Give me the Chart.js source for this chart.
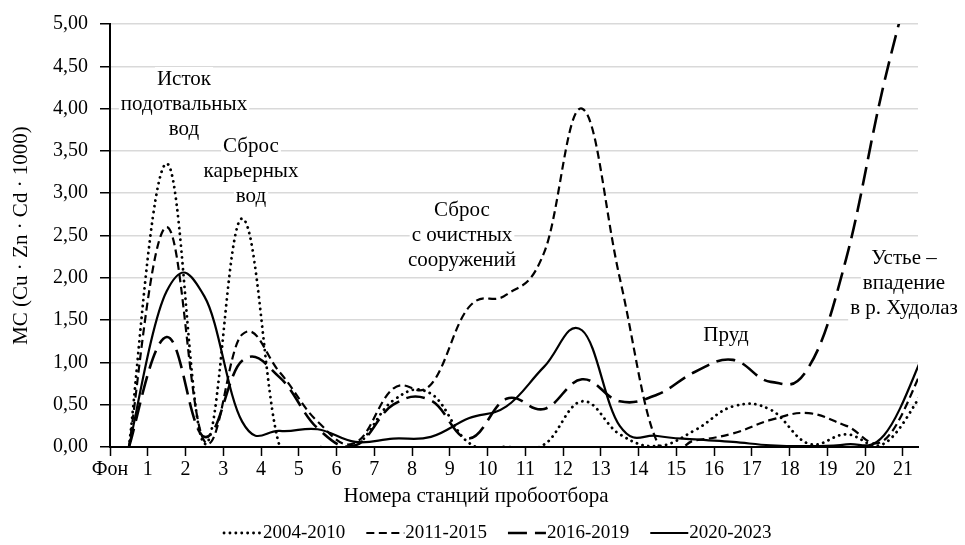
<!DOCTYPE html>
<html>
<head>
<meta charset="utf-8">
<script src="https://cdn.jsdelivr.net/npm/chart.js@4.4.1/dist/chart.umd.min.js"></script>
<style>
  html, body { margin: 0; padding: 0; background: #fff; }
  #wrap { width: 965px; height: 545px; }
</style>
</head>
<body>
<div id="wrap"><canvas id="myChart" width="965" height="545"></canvas></div>
<script>
// station labels on the x axis
const stations = ['Фон', '1', '2', '3', '4', '5', '6', '7', '8', '9', '10',
  '11', '12', '13', '14', '15', '16', '17', '18', '19', '20', '21'];

// values, one per station
const s2004 = [0, 3.35, 0.04, 2.70, 0, 0, 0.01, 0.55, 0.63, 0.05, 0, 0.03, 0.54, 0.15, 0.01, 0.20, 0.48, 0.44, 0.04, 0.15, 0.04, 0.63];
const s2011 = [0, 2.60, 0.07, 1.33, 0.88, 0.30, 0.05, 0.69, 0.74, 1.65, 1.80, 2.30, 4.00, 2.00, 0.05, 0.08, 0.16, 0.32, 0.40, 0.25, 0.08, 0.90];
const s2016 = [0, 1.30, 0.12, 1.02, 0.82, 0.22, 0.02, 0.50, 0.55, 0.10, 0.57, 0.45, 0.80, 0.54, 0.62, 0.89, 1.03, 0.77, 0.94, 2.23, 4.30, 6.00];
const s2020 = [0, 1.84, 1.78, 0.30, 0.19, 0.21, 0.06, 0.10, 0.12, 0.34, 0.48, 0.95, 1.38, 0.25, 0.13, 0.09, 0.06, 0.02, 0.01, 0.03, 0.14, 1.05];

const yTickLabels = ['0,00', '0,50', '1,00', '1,50', '2,00', '2,50', '3,00', '3,50', '4,00', '4,50', '5,00'];

// text notes inside the plot
const notes = [
  { lines: ['Исток', 'подотвальных', 'вод'], cx: 184, top: 79 },
  { lines: ['Сброс', 'карьерных', 'вод'], cx: 251, top: 146 },
  { lines: ['Сброс', 'с очистных', 'сооружений'], cx: 462, top: 210 },
  { lines: ['Пруд'], cx: 726, top: 335 },
  { lines: ['Устье –', 'впадение', 'в р. Худолаз'], cx: 904, top: 258 }
];

const FONT = "'Liberation Serif', 'Times New Roman', serif";
const SMOOTH = 0.2;
Chart.defaults.font.family = FONT;
Chart.defaults.color = '#000';

// data sits in the middle of each station slot
function toPoints(arr) {
  return arr.map((v, i) => ({ x: i + 0.5, y: v }));
}

// even (spreadsheet-like) smoothing instead of distance weighted one
const smoothPlugin = {
  id: 'smooth',
  beforeDatasetDraw(chart, args) {
    const meta = args.meta;
    const line = meta.dataset;
    line.updateControlPoints(chart.chartArea, meta.indexAxis);
    const pts = meta.data;
    for (let i = 0; i < pts.length; i++) {
      const p = pts[i];
      const a = pts[i - 1] || p;
      const b = pts[i + 1] || p;
      const dx = (b.x - a.x) * SMOOTH;
      const dy = (b.y - a.y) * SMOOTH;
      p.cp1x = p.x - dx; p.cp1y = p.y - dy;
      p.cp2x = p.x + dx; p.cp2y = p.y + dy;
    }
    line._path = undefined;
  }
};

const notesPlugin = {
  id: 'notes',
  beforeDatasetsDraw(chart) {
    const ctx = chart.ctx;
    ctx.save();
    ctx.font = '21px ' + FONT;
    ctx.textAlign = 'center';
    ctx.textBaseline = 'middle';
    notes.forEach(n => {
      n.lines.forEach((t, i) => {
        const w = ctx.measureText(t).width;
        const y = n.top + i * 25;
        ctx.fillStyle = '#fff';
        ctx.fillRect(n.cx - w / 2 - 2, y - 12, w + 4, 25);
        ctx.fillStyle = '#000';
        ctx.fillText(t, n.cx, y);
      });
    });
    ctx.restore();
  }
};

const bottomPlugin = {
  id: 'bottomText',
  afterDraw(chart) {
    const ctx = chart.ctx;
    ctx.save();
    ctx.fillStyle = '#000';
    ctx.textBaseline = 'middle';
    ctx.textAlign = 'center';
    ctx.font = '21px ' + FONT;
    ctx.fillText('Номера станций пробоотбора', 476, 496);

    // legend
    ctx.font = '19px ' + FONT;
    ctx.textAlign = 'left';
    let x = 224;
    const y = 533;
    chart.data.datasets.forEach(ds => {
      ctx.save();
      ctx.strokeStyle = ds.borderColor;
      ctx.lineWidth = ds.borderWidth;
      ctx.lineCap = ds.borderCapStyle || 'butt';
      ctx.setLineDash(ds.borderDash || []);
      ctx.beginPath();
      ctx.moveTo(x, y);
      ctx.lineTo(x + 38, y);
      ctx.stroke();
      ctx.restore();
      x += 39;
      ctx.fillText(ds.label, x, y);
      x += ctx.measureText(ds.label).width + 21;
    });
    ctx.restore();
  }
};

const ctx = document.querySelector('#myChart').getContext('2d');
const myChart = new Chart(ctx, {
  type: 'line',
  data: {
    datasets: [{
      label: '2004-2010',
      data: toPoints(s2004),
      borderColor: '#000',
      borderWidth: 2.8,
      borderDash: [0.1, 5.8],
      borderCapStyle: 'round'
    }, {
      label: '2011-2015',
      data: toPoints(s2011),
      borderColor: '#000',
      borderWidth: 2.2,
      borderDash: [8, 4.5]
    }, {
      label: '2016-2019',
      data: toPoints(s2016),
      borderColor: '#000',
      borderWidth: 2.6,
      borderDash: [19, 8]
    }, {
      label: '2020-2023',
      data: toPoints(s2020),
      borderColor: '#000',
      borderWidth: 2.2
    }]
  },
  options: {
    responsive: false,
    animation: false,
    layout: { padding: { left: 0, right: 47, top: 23, bottom: 58 } },
    elements: {
      point: { radius: 0, hoverRadius: 0 },
      line: { tension: 0.4, fill: false, capBezierPoints: false }
    },
    plugins: {
      legend: { display: false },
      tooltip: { enabled: false }
    },
    scales: {
      x: {
        type: 'linear',
        min: 0,
        max: 21.4,
        ticks: {
          stepSize: 1,
          includeBounds: false,
          autoSkip: false,
          maxRotation: 0,
          padding: 2,
          font: { size: 20 },
          color: '#000',
          callback: v => stations[Math.round(v)]
        },
        grid: { drawOnChartArea: false, tickColor: '#000', tickLength: 9, tickWidth: 1.5 },
        border: { color: '#000', width: 2 },
        afterFit: s => { s.height = 40; }
      },
      y: {
        min: 0,
        max: 5,
        ticks: {
          stepSize: 0.5,
          padding: 12,
          font: { size: 20 },
          color: '#000',
          callback: (v, i) => yTickLabels[i]
        },
        grid: { color: '#d9d9d9', lineWidth: 1.5, tickColor: '#000', tickLength: 10, tickWidth: 1.5 },
        border: { color: '#000', width: 2 },
        title: {
          display: true,
          text: 'МС (Cu · Zn · Cd · 1000)',
          font: { size: 21 },
          color: '#000',
          padding: { top: 9, bottom: 0 }
        },
        afterFit: s => { s.width = 110; }
      }
    }
  },
  plugins: [smoothPlugin, notesPlugin, bottomPlugin]
});
</script>
</body>
</html>
